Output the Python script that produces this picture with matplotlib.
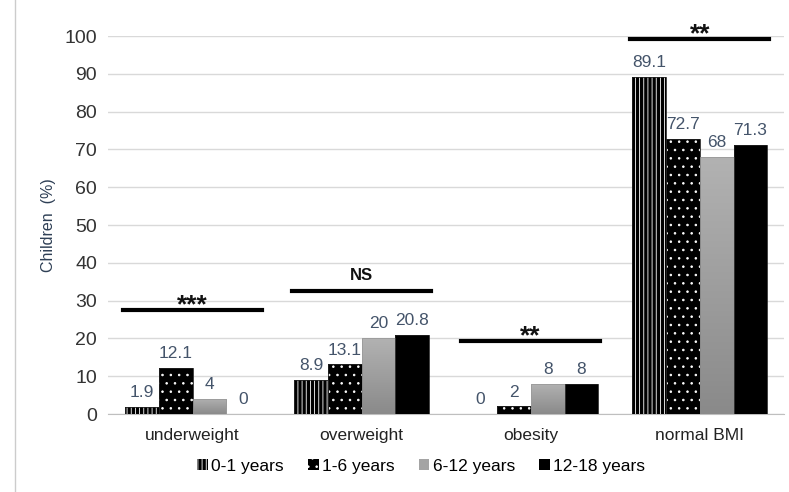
import numpy as np
import matplotlib
matplotlib.use("Agg")
import matplotlib.pyplot as plt
from matplotlib.colors import LinearSegmentedColormap
from matplotlib.lines import Line2D

categories = ["underweight", "overweight", "obesity", "normal BMI"]
age_groups = ["0-1 years", "1-6 years", "6-12 years", "12-18 years"]
age_0_1 = [1.9, 8.9, 0, 89.1]
age_1_6 = [12.1, 13.1, 2, 72.7]
age_6_12 = [4, 20, 8, 68]
age_12_18 = [0, 20.8, 8, 71.3]
sig_labels = ["***", "NS", "**", "**"]
sig_heights = [27.5, 32.5, 19.3, 99.2]

plt.rcParams["font.family"] = ["Liberation Sans", "DejaVu Sans"]
plt.rcParams["hatch.linewidth"] = 0.6

fig = plt.figure(figsize=(7.89, 4.92), dpi=100)
ax = fig.add_axes([0.137, 0.1585, 0.857, 0.7683])

series = [age_0_1, age_1_6, age_6_12, age_12_18]
styles = [
    dict(facecolor="black", edgecolor="white", hatch="||||"),
    dict(facecolor="black", edgecolor="white", hatch=".."),
    dict(facecolor="#a4a4a4", edgecolor="#a4a4a4", hatch=None),
    dict(facecolor="black", edgecolor="black", hatch=None),
]
x = np.arange(len(categories))
width = 0.2
gray_cmap = LinearSegmentedColormap.from_list("g", ["#8a8a8a", "#b2b2b2"])
grad = np.linspace(0, 1, 100).reshape(-1, 1)

handles = []
for i, (vals, st) in enumerate(zip(series, styles)):
    xs = x + (i - 1.5) * width
    bars = ax.bar(xs, vals, width, linewidth=0, zorder=3, label=age_groups[i], **st)
    ax.bar(xs, vals, width, fill=False, edgecolor="#222222" if i != 2 else "#9a9a9a",
           linewidth=0.6, zorder=4)
    handles.append(bars)
    if i == 2:
        # gray bars have a light-to-dark gradient
        for b in bars:
            im = ax.imshow(grad, extent=[b.get_x(), b.get_x() + b.get_width(), 0, b.get_height()],
                           origin="lower", aspect="auto", cmap=gray_cmap, zorder=3.5)
            im.set_clip_path(b)
    for xi, v in zip(xs, vals):
        ax.annotate(f"{v:g}", (xi, v), xytext=(0, 5), textcoords="offset points",
                    ha="center", va="bottom", fontsize=12.5, color="#44546a")

for xi, lab, h in zip(x, sig_labels, sig_heights):
    ax.add_line(Line2D([xi - 0.41, xi + 0.41], [h, h], color="black", linewidth=3,
                       clip_on=False, zorder=5))
    if lab == "NS":
        ax.annotate(lab, (xi, h), xytext=(0, 6), textcoords="offset points", ha="center",
                    va="bottom", fontsize=12, fontweight="bold", color="#111111",
                    annotation_clip=False)
    else:
        ax.annotate(lab, (xi, h), xytext=(0, -5), textcoords="offset points",
                    ha="center", va="bottom", fontsize=19, fontweight="bold",
                    color="#111111", annotation_clip=False)

ax.set_xlim(-0.5, 3.5)
ax.set_ylim(0, 100)
ax.set_yticks(range(0, 101, 10))
ax.set_xticks(x)
ax.set_xticklabels(categories, fontsize=12.5, color="#222222")
ax.tick_params(axis="y", labelsize=14, colors="#333333", length=0, pad=8)
ax.tick_params(axis="x", length=0, pad=10)
ax.grid(axis="y", color="#d9d9d9", linewidth=1, zorder=0)
ax.set_axisbelow(True)
for s in ["top", "right", "left"]:
    ax.spines[s].set_visible(False)
ax.spines["bottom"].set_color("#bfbfbf")
ax.set_ylabel("Children  (%)", fontsize=11.5, color="#2e3f55", labelpad=6)

fig.legend(handles, age_groups, loc="center", bbox_to_anchor=(0.534, 0.052), ncol=4,
           frameon=False, fontsize=12.5, handlelength=0.6, handleheight=0.6,
           handletextpad=0.2, columnspacing=1.4)

fig.add_artist(Line2D([0.019, 0.019], [0, 1], color="#cccccc", linewidth=1,
                      transform=fig.transFigure))

fig.savefig("out.png", dpi=100)
